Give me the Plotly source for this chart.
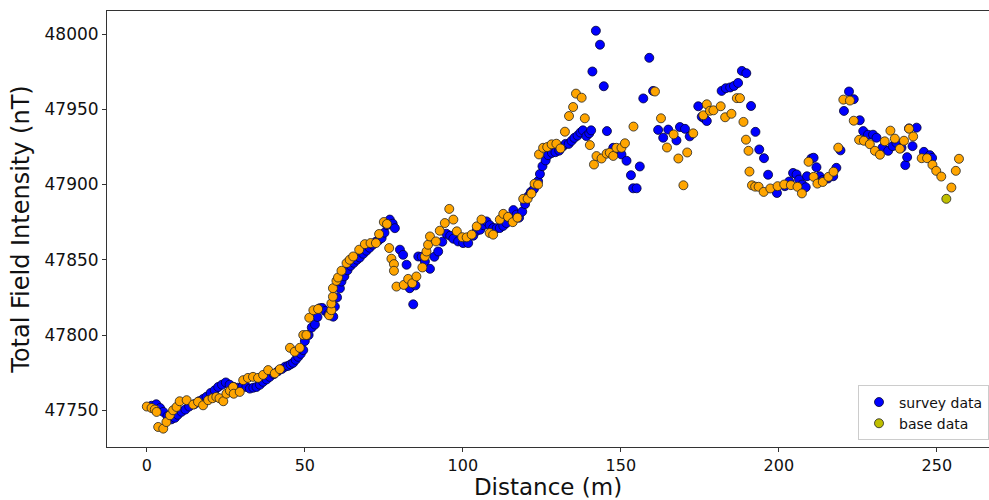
import plotly.graph_objects as go

# Survey data (distance m, total field nT)
survey_x = [1.5, 3.0, 4.2, 5.2, 6.5, 7.8, 8.9, 9.8, 11.0, 12.2, 13.4, 15.0, 16.5, 17.8, 18.9,
            20.2, 21.5, 22.6, 23.8, 25.0, 26.2, 27.5, 28.8, 30.2, 31.5, 32.6, 33.7, 34.7, 35.8,
            36.8, 37.9, 38.9, 40.2, 41.5, 42.8, 43.8, 44.7, 45.5, 46.3, 47.1, 47.9, 48.7, 49.5,
            50.0, 51.2, 52.2, 53.2, 54.0, 54.7, 55.5, 56.5, 57.5, 58.3, 59.0, 59.5, 60.2, 61.1,
            61.6, 62.5, 63.5, 64.5, 65.5, 66.5, 67.4, 68.5, 69.5, 70.5, 71.5, 72.5, 73.4, 74.3,
            75.2, 76.0, 76.9, 77.8, 78.5, 80.1, 81.1, 82.2, 83.2, 84.3, 85.0, 85.9, 87.0, 88.0,
            89.6, 91.0, 92.2, 93.5, 94.8, 96.0, 97.0, 98.5, 100.1, 101.7, 103.3, 104.4, 105.5,
            106.5, 107.5, 108.5, 109.6, 110.7, 111.7, 112.8, 113.8, 115.0, 116.0, 117.0, 117.8,
            118.8, 119.7, 120.7, 121.5, 122.5, 123.8, 124.4, 125.2, 126.2, 127.0, 128.2, 129.3,
            130.5, 131.5, 132.5, 133.5, 134.4, 135.3, 136.3, 137.2, 138.0, 139.1, 140.0, 140.6,
            141.0, 142.1, 143.4, 144.6, 145.6, 147.6, 149.0, 150.2, 151.8, 153.2, 153.9, 155.0,
            156.0, 157.1, 159.0, 160.2, 161.8, 163.4, 165.0, 167.6, 168.7, 170.3, 171.8, 174.5,
            175.6, 176.4, 177.2, 181.9, 183.2, 184.6, 185.8, 187.1, 188.3, 189.7, 191.2, 192.6,
            193.8, 195.3, 196.6, 199.4, 201.9, 203.3, 204.5, 205.6, 206.4, 207.4, 208.5, 208.9,
            210.3, 211.0, 211.9, 212.9, 213.9, 215.5, 217.2, 218.2, 219.5, 220.6, 222.2, 223.7,
            225.6, 226.7, 228.2, 229.8, 230.9, 232.8, 234.6, 236.0, 237.2, 238.8, 240.0, 240.6,
            241.2, 242.3, 243.6, 245.9, 247.8, 248.5]
survey_y = [47753.0, 47754.0, 47751.5, 47748.9, 47746.0, 47744.0, 47745.0, 47747.0, 47749.0,
            47750.5, 47752.5, 47754.0, 47756.0, 47757.5, 47759.0, 47761.5, 47763.3, 47765.5,
            47767.0, 47768.5, 47767.0, 47765.5, 47765.0, 47765.5, 47765.5, 47764.4, 47765.0,
            47765.5, 47767.0, 47768.9, 47770.5, 47772.2, 47774.0, 47776.0, 47777.5, 47779.0,
            47779.5, 47780.5, 47781.5, 47783.5, 47785.5, 47787.5, 47790.0, 47796.0, 47800.0,
            47805.0, 47807.0, 47812.0, 47817.8, 47818.0, 47816.0, 47814.0, 47813.0, 47812.2,
            47818.9, 47825.0, 47831.0, 47835.5, 47839.0, 47843.0, 47846.0, 47848.0, 47850.0,
            47851.5, 47854.0, 47856.0, 47858.0, 47860.0, 47862.0, 47863.0, 47864.4, 47868.0,
            47873.0, 47876.7, 47874.0, 47871.0, 47856.7, 47853.3, 47846.7, 47831.1, 47820.4,
            47833.0, 47852.2, 47852.0, 47848.9, 47844.0, 47852.0, 47855.5, 47862.0, 47867.3,
            47866.0, 47864.0, 47862.2, 47861.1, 47861.1, 47866.0, 47869.3, 47870.0, 47873.0,
            47875.5, 47873.0, 47871.1, 47871.0, 47871.1, 47872.5, 47874.4, 47878.0, 47883.0,
            47880.0, 47878.0, 47882.0, 47887.0, 47892.2, 47895.0, 47897.0, 47902.2, 47907.0,
            47912.2, 47916.0, 47919.5, 47921.0, 47921.5, 47922.5, 47925.0, 47927.0, 47927.0,
            47929.0, 47931.0, 47932.5, 47934.5, 47936.0, 47932.2, 47934.0, 47936.0, 47975.1,
            48002.2, 47992.9, 47965.3, 47935.5, 47924.4, 47922.0, 47920.0, 47915.8, 47906.2,
            47897.5, 47897.5, 47912.0, 47957.2, 47984.2, 47962.2, 47936.3, 47931.1, 47936.5,
            47929.3, 47938.2, 47937.0, 47932.0, 47952.0, 47945.0, 47944.0, 47942.2, 47962.2,
            47964.0, 47964.5, 47965.5, 47967.5, 47975.5, 47974.0, 47952.2, 47935.0, 47923.3,
            47917.5, 47906.5, 47894.4, 47898.9, 47902.0, 47907.7, 47906.7, 47903.3, 47900.0,
            47898.2, 47905.5, 47917.3, 47917.8, 47911.5, 47905.5, 47903.0, 47904.0, 47905.5,
            47911.1, 47922.7, 47948.9, 47961.8, 47956.7, 47942.7, 47935.5, 47933.1, 47933.1,
            47931.1, 47924.4, 47922.4, 47925.5, 47927.7, 47924.4, 47912.9, 47918.2, 47937.3,
            47925.5, 47937.8, 47921.7, 47919.5, 47917.7]

# Base station data
base_x = [0.0, 1.5, 2.5, 3.1, 3.6, 5.2, 6.2, 7.3, 8.3, 9.4, 10.4, 12.6, 14.7, 16.2, 17.8, 19.4,
          20.8, 22.0, 23.0, 24.2, 25.2, 26.3, 27.3, 27.5, 29.4, 30.5, 32.0, 33.6, 35.2, 36.8,
          38.4, 40.5, 42.1, 45.3, 46.8, 48.4, 49.5, 50.5, 51.4, 52.7, 54.2, 57.7, 58.4, 58.4,
          58.9, 58.9, 60.0, 60.5, 61.6, 63.2, 64.2, 65.3, 67.2, 69.0, 70.8, 72.5, 73.5, 75.0,
          76.0, 76.7, 77.4, 78.2, 78.2, 79.0, 81.3, 82.7, 84.0, 85.3, 87.2, 88.0, 88.5, 89.0,
          89.6, 91.5, 92.7, 94.3, 95.7, 97.0, 98.1, 99.8, 101.2, 102.8, 104.4, 105.9, 108.5,
          109.6, 111.7, 112.8, 114.3, 115.8, 117.3, 119.1, 120.5, 121.7, 122.7, 123.8, 124.1,
          125.4, 126.7, 128.1, 129.6, 130.9, 132.3, 133.6, 134.9, 135.8, 137.6, 138.6, 140.2,
          141.5, 142.3, 143.9, 145.5, 146.5, 147.6, 148.6, 150.2, 151.3, 154.0, 160.8, 162.7,
          164.6, 166.7, 168.2, 169.8, 171.0, 172.9, 176.1, 177.2, 178.2, 179.3, 181.6, 183.0,
          185.0, 186.7, 187.7, 188.8, 189.6, 190.4, 190.7, 191.5, 192.5, 193.6, 195.2, 197.3,
          199.6, 201.7, 203.8, 205.9, 207.3, 209.4, 211.0, 212.2, 213.9, 215.7, 217.3, 218.8,
          220.4, 222.5, 223.7, 225.4, 226.9, 228.8, 230.4, 232.0, 233.5, 235.3, 236.7, 238.3,
          239.6, 241.2, 242.5, 245.2, 246.9, 248.6, 249.8, 251.4, 253.0, 254.6, 256.0, 257.0]
base_y = [47752.5, 47751.5, 47750.5, 47748.9, 47738.9, 47737.8, 47742.2, 47746.7, 47750.0,
          47752.2, 47756.0, 47756.7, 47753.8, 47755.6, 47753.3, 47756.7, 47758.0, 47758.9,
          47758.0, 47756.0, 47761.0, 47763.0, 47765.5, 47761.0, 47762.2, 47770.0, 47771.5,
          47772.2, 47771.5, 47773.5, 47776.7, 47774.5, 47777.3, 47791.5, 47788.9, 47791.5,
          47800.0, 47800.0, 47811.5, 47816.5, 47817.3, 47813.1, 47816.5, 47821.0, 47825.5,
          47831.1, 47836.0, 47838.2, 47842.7, 47847.8, 47850.0, 47852.2, 47856.7, 47860.4,
          47861.1, 47861.1, 47867.1, 47875.1, 47873.8, 47857.8, 47850.7, 47847.1, 47842.7,
          47832.2, 47833.3, 47837.3, 47834.4, 47838.9, 47844.9, 47852.2, 47855.5, 47860.0,
          47865.5, 47862.2, 47869.3, 47874.4, 47883.8, 47876.7, 47868.9, 47865.0, 47864.9,
          47866.7, 47872.2, 47876.7, 47867.8, 47866.7, 47876.7, 47880.5, 47878.5, 47875.0,
          47878.0, 47890.5, 47890.5, 47894.0, 47900.5, 47900.0, 47920.0, 47924.4, 47924.9,
          47926.7, 47927.1, 47924.0, 47935.1, 47945.5, 47951.5, 47960.4, 47957.7, 47944.0,
          47926.2, 47913.3, 47918.9, 47917.3, 47920.5, 47921.1, 47919.0, 47924.4, 47924.4,
          47927.4, 47938.5, 47961.8, 47944.0, 47924.6, 47933.3, 47917.3, 47899.5, 47921.3,
          47934.0, 47946.0, 47953.3, 47949.0, 47949.3, 47952.0, 47944.7, 47947.0, 47957.4,
          47957.4, 47941.6, 47929.8, 47922.4, 47908.6, 47899.5, 47898.6, 47898.5, 47895.1,
          47897.4, 47898.9, 47900.0, 47899.6, 47898.5, 47894.1, 47915.1, 47905.1, 47900.6,
          47901.7, 47905.1, 47908.5, 47924.5, 47956.4, 47955.8, 47942.4, 47929.7, 47929.1,
          47926.8, 47922.4, 47919.8, 47928.7, 47935.8, 47930.5, 47923.8, 47929.1, 47937.1,
          47931.9, 47917.5, 47917.5, 47913.1, 47909.1, 47905.3, 47890.5, 47898.0, 47909.1,
          47917.1]

x_ticks = [0, 50, 100, 150, 200, 250]
y_ticks = [47750, 47800, 47850, 47900, 47950, 48000]

ORANGE = "#FFA500"
OLIVE = "#BFBF00"
base_colors = [ORANGE] * len(base_x)
base_colors[base_x.index(253.0)] = OLIVE

fig = go.Figure()
fig.add_trace(go.Scatter(
    x=survey_x, y=survey_y, mode="markers", name="survey data",
    marker=dict(color="#0000FF", size=9, line=dict(color="#000033", width=0.8)),
))
fig.add_trace(go.Scatter(
    x=base_x, y=base_y, mode="markers", name="base data", showlegend=False,
    marker=dict(color=base_colors, size=9, line=dict(color="#222222", width=0.8)),
))
fig.add_trace(go.Scatter(
    x=[None], y=[None], mode="markers", name="base data",
    marker=dict(color=OLIVE, size=9, line=dict(color="#222222", width=0.8)),
))

font = "DejaVu Sans, Arial, sans-serif"
fig.update_layout(
    width=989, height=500,
    margin=dict(l=107, r=0, t=11, b=53),
    paper_bgcolor="white", plot_bgcolor="white",
    font=dict(family=font, color="#111111"),
    showlegend=True,
    legend=dict(
        x=1.0, y=0.015, xanchor="right", yanchor="bottom",
        bgcolor="rgba(255,255,255,0.85)", bordercolor="#cccccc", borderwidth=1,
        font=dict(size=14, family=font), itemsizing="trace",
        tracegroupgap=0, itemwidth=30,
    ),
    xaxis=dict(
        range=[-12.6, 266.5], tickmode="array", tickvals=x_ticks,
        showgrid=False, zeroline=False, showline=True, linecolor="#333333", linewidth=1,
        mirror=True, ticks="outside", ticklen=4, tickcolor="#333333",
        tickfont=dict(size=16), title=dict(text="Distance (m)", font=dict(size=23), standoff=8),
    ),
    yaxis=dict(
        range=[47725.6, 48015.3], tickmode="array", tickvals=y_ticks, tickformat="d",
        showgrid=False, zeroline=False, showline=True, linecolor="#333333", linewidth=1,
        ticks="outside", ticklen=4, tickcolor="#333333",
        tickfont=dict(size=17),
        title=dict(text="Total Field Intensity (nT)", font=dict(size=24), standoff=8),
    ),
)

fig.write_html("out.html")
